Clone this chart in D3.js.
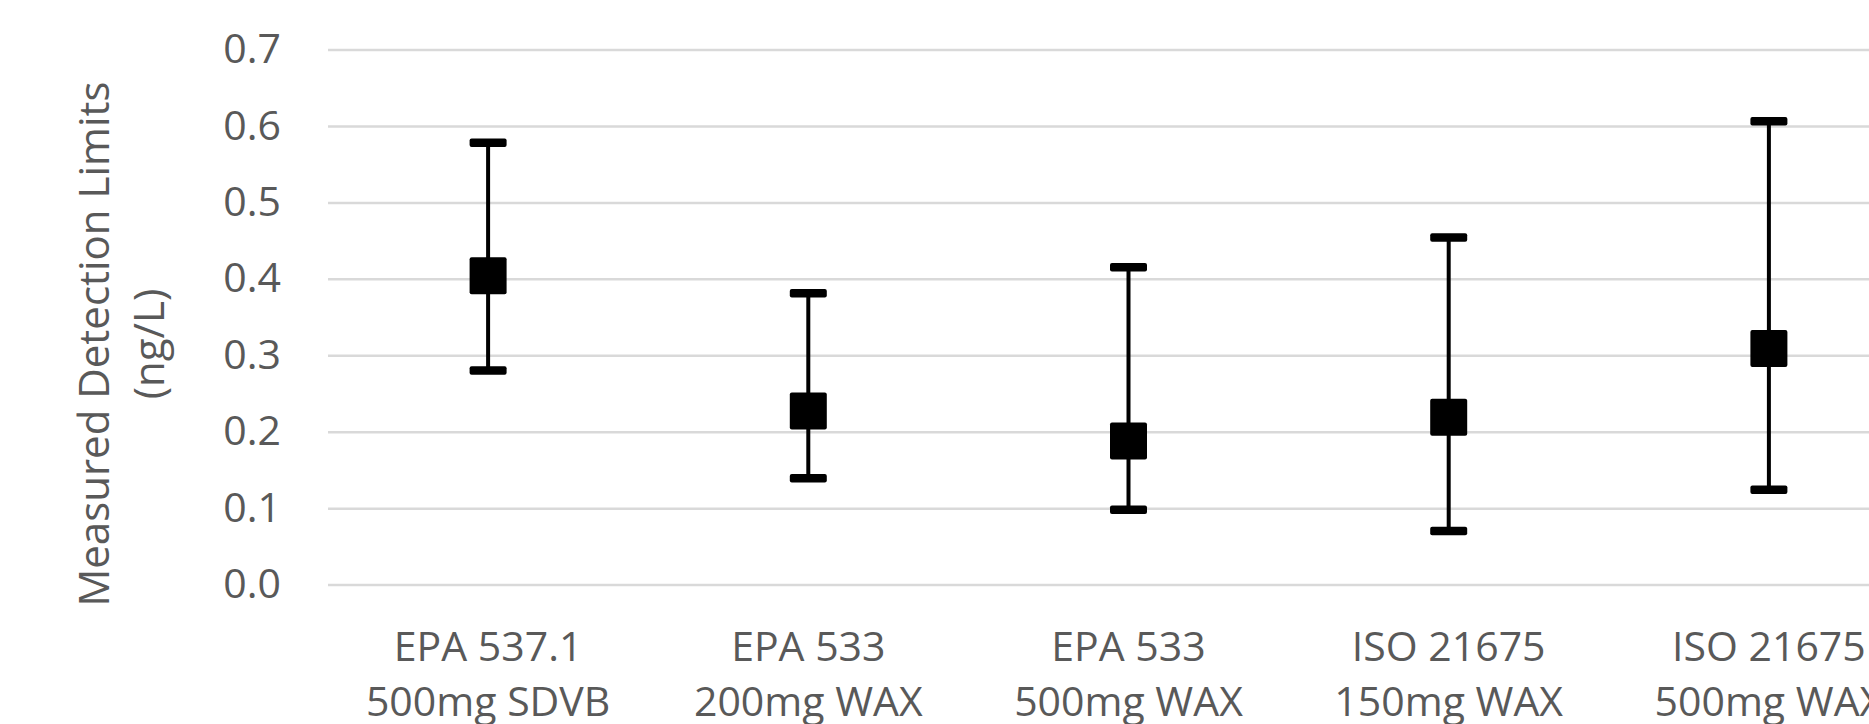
<!DOCTYPE html>
<html>
<head>
<meta charset="utf-8">
<script src="https://cdn.jsdelivr.net/npm/d3@7"></script>
<style>
  html, body { margin: 0; padding: 0; background: #fff; overflow: hidden; }
  svg { display: block; }
  text { font-family: "Open Sans", sans-serif; fill: #595959; }
</style>
</head>
<body>
<svg id="chart" width="1869" height="724"></svg>
<script>
const categories = [
  "EPA 537.1\n500mg SDVB",
  "EPA 533\n200mg WAX",
  "EPA 533\n500mg WAX",
  "ISO 21675\n150mg WAX",
  "ISO 21675\n500mg WAX"
];
const meanValues  = [0.404, 0.227, 0.188, 0.219, 0.309];
const upperValues = [0.578, 0.381, 0.415, 0.454, 0.606];
const lowerValues = [0.280, 0.139, 0.098, 0.070, 0.124];
const yTicks = [0.0, 0.1, 0.2, 0.3, 0.4, 0.5, 0.6, 0.7];
const yTitleLines = ["Measured Detection Limits", "(ng/L)"];

const svg = d3.select("#chart");
const plotLeft = 328, plotTop = 49.5, plotBottom = 584.6;
const plotW = 5 * 320.2;
const plotH = plotBottom - plotTop;

const x = d3.scaleBand().domain(categories).range([0, plotW]).padding(0);
const y = d3.scaleLinear().domain([0, 0.7]).range([plotH, 0]);

const g = svg.append("g").attr("transform", `translate(${plotLeft},${plotTop})`);

// y axis with gridlines
const yAxis = d3.axisLeft(y).tickValues(yTicks).tickFormat(d3.format(".1f"))
  .tickSize(-plotW).tickPadding(47);
const yg = g.append("g").call(yAxis);
yg.select(".domain").remove();
yg.selectAll(".tick line").attr("stroke", "#d9d9d9").attr("stroke-width", 2.5);
yg.selectAll(".tick text").attr("font-size", 41).attr("fill", "#595959")
  .attr("font-family", "'Open Sans', sans-serif");

// x axis labels
const xAxis = d3.axisBottom(x).tickSize(0).tickPadding(0);
const xg = g.append("g").attr("transform", `translate(0,${plotH})`).call(xAxis);
xg.select(".domain").remove();
xg.selectAll(".tick text").each(function(d) {
  const t = d3.select(this);
  t.text(null).attr("dy", null).attr("y", 0)
    .attr("font-size", 41).attr("fill", "#595959")
    .attr("font-family", "'Open Sans', sans-serif");
  d.split("\n").forEach((line, i) => {
    t.append("tspan").attr("x", 0).attr("y", 76.5 + i * 55).text(line);
  });
});

// error bars
const data = categories.map((c, i) => ({ c, m: meanValues[i], hi: upperValues[i], lo: lowerValues[i] }));
const cx = d => x(d.c) + x.bandwidth() / 2;

g.selectAll(".stem").data(data).join("line")
  .attr("x1", cx).attr("x2", cx)
  .attr("y1", d => y(d.hi)).attr("y2", d => y(d.lo))
  .attr("stroke", "#000").attr("stroke-width", 4);

const capW = 37, capH = 8.5;
g.selectAll(".capHi").data(data).join("rect")
  .attr("x", d => cx(d) - capW / 2).attr("y", d => y(d.hi) - capH / 2)
  .attr("width", capW).attr("height", capH).attr("rx", 2).attr("fill", "#000");
g.selectAll(".capLo").data(data).join("rect")
  .attr("x", d => cx(d) - capW / 2).attr("y", d => y(d.lo) - capH / 2)
  .attr("width", capW).attr("height", capH).attr("rx", 2).attr("fill", "#000");

const mk = 37;
g.selectAll(".marker").data(data).join("rect")
  .attr("x", d => cx(d) - mk / 2).attr("y", d => y(d.m) - mk / 2)
  .attr("width", mk).attr("height", mk).attr("rx", 2).attr("fill", "#000");

// y title
const yt = svg.append("text")
  .attr("transform", "translate(109,344) rotate(-90)")
  .attr("text-anchor", "middle").attr("font-size", 42).attr("fill", "#595959");
yTitleLines.forEach((line, i) => {
  yt.append("tspan").attr("x", 0).attr("y", i * 55).text(line);
});
</script>
</body>
</html>
